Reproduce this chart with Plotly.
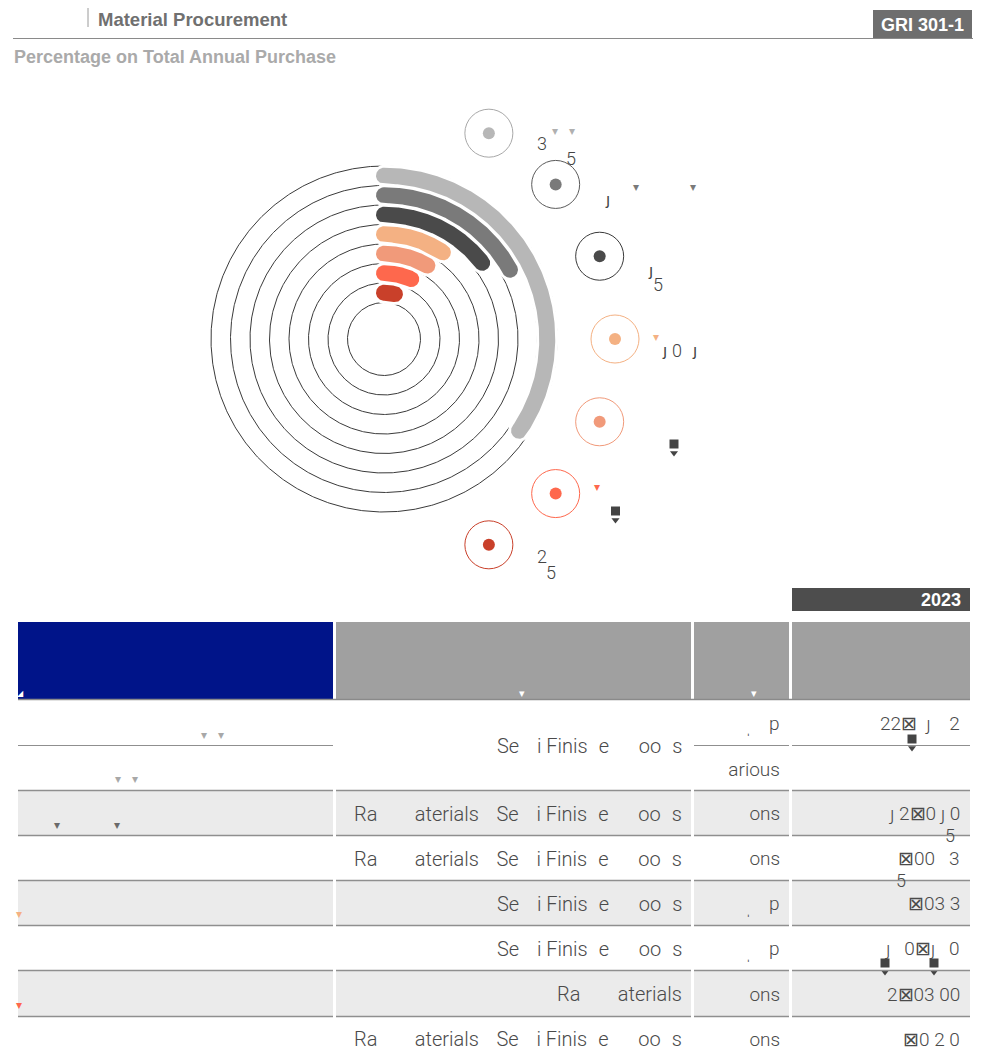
import numpy as np
import plotly.graph_objects as go

# ---------------- data ----------------
shares = [34.5, 17, 14.5, 9.5, 8.5, 6.8, 3.8]          # % of total annual purchase
arc_colors = ["#b7b7b7", "#7a7a7a", "#4a4a4a", "#f4b183", "#f19a7a", "#fe684d", "#c9402a"]
ring_colors = ["#a8a8a8", "#5a5a5a", "#3a3a3a", "#f4b183", "#f19a7a", "#fe684d", "#c9402a"]

table_type = ["Semi Finished Goods",
              "Raw Materials / Semi Finished Goods",
              "Raw Materials / Semi Finished Goods",
              "Semi Finished Goods",
              "Semi Finished Goods",
              "Raw Materials",
              "Raw Materials / Semi Finished Goods"]
table_unit = ["p", "Tons", "Tons", "p", "p", "Tons", "Tons"]
table_unit_extra = "Various"
table_value = ["22\u22a0\u00a0\u00a0\u0237\u00a0\u00a0\u00a0\u00a02",
               "\u0237 2\u22a00\u00a0\u0237\u00a00",
               "\u22a000\u00a0\u00a0\u00a03",
               "\u22a003 3",
               "\u0237\u00a0\u00a0\u00a00\u22a0\u0237\u00a0\u00a0\u00a00",
               "2\u22a003 00",
               "\u22a00 2 0"]
year_label = "2023"
HIDDEN = set("mhdGwMTV/")   # glyphs that the reference font does not draw

# ---------------- geometry / style ----------------
CX, CY = 384, 339
R_OUT, STEP, N_RING = 173, 19.5, 8
BAND = 16
FONT = "Roboto, Liberation Sans, Arial, sans-serif"
HFONT = "Liberation Sans, Arial, sans-serif"

fig = go.Figure()
annotations = []
shapes = []
bang_pts = []


def pt(theta_deg, r):
    t = np.radians(theta_deg)
    return CX + r * np.sin(t), CY - r * np.cos(t)


def text(x, y, s, size=17, color="#444444", xanchor="left", yanchor="middle", family=FONT,
         bold=False, weight=None):
    if bold:
        s = "<b>" + s + "</b>"
    f = dict(size=size, color=color, family=family)
    if weight is not None:
        f["weight"] = weight
    annotations.append(dict(x=x, y=y, xref="x", yref="y", text=s, showarrow=False,
                            xanchor=xanchor, yanchor=yanchor, font=f))


def masked(s):
    out = []
    for ch in s:
        if ch in HIDDEN:
            out.append("<span style='color:rgba(0,0,0,0)'>" + ch + "</span>")
        elif ch == " ":
            out.append("\u00a0")
        else:
            out.append(ch)
    return "".join(out)


def rect(x0, y0, x1, y1, color):
    shapes.append(dict(type="rect", xref="x", yref="y", x0=x0, y0=y0, x1=x1, y1=y1,
                       fillcolor=color, line=dict(width=0), layer="below"))


def line(x0, y0, x1, y1, color, width=1):
    shapes.append(dict(type="line", xref="x", yref="y", x0=x0, y0=y0, x1=x1, y1=y1,
                       line=dict(color=color, width=width)))


def bang(x, y):
    # dark block glyph with a tapering tail, as drawn by the reference font
    bang_pts.append((x, y))


# ---------------- concentric rings ----------------
th = np.linspace(0, 360, 721)
for k in range(N_RING):
    r = R_OUT - STEP * k
    xs, ys = pt(th, r)
    fig.add_trace(go.Scatter(x=xs, y=ys, mode="lines", line=dict(color="#3a3a3a", width=1),
                             hoverinfo="skip", showlegend=False))


def arc_poly(value, r, half):
    span = value / 100 * 360
    a = np.linspace(0, span, 200)
    ox, oy = pt(a, r + half)
    ix, iy = pt(a[::-1], r - half)
    ex, ey = pt(span, r)
    cap = np.radians(np.linspace(0, 180, 40))
    nx, ny = np.sin(np.radians(span)), -np.cos(np.radians(span))
    tx, ty = np.cos(np.radians(span)), np.sin(np.radians(span))
    cx_ = ex + half * (nx * np.cos(cap) + tx * np.sin(cap))
    cy_ = ey + half * (ny * np.cos(cap) + ty * np.sin(cap))
    sx, sy = pt(0, r)
    scx = sx + half * (-np.sin(cap))
    scy = sy + half * (np.cos(cap))
    X = np.concatenate([ox, cx_, ix, scx])
    Y = np.concatenate([oy, cy_, iy, scy])
    return X, Y


for i, v in enumerate(shares):
    r = R_OUT - STEP * i - STEP / 2
    X, Y = arc_poly(v, r, BAND / 2 + 3)
    fig.add_trace(go.Scatter(x=X, y=Y, mode="lines", fill="toself", fillcolor="white",
                             line=dict(width=0, color="white"), hoverinfo="skip", showlegend=False))
for i, v in enumerate(shares):
    r = R_OUT - STEP * i - STEP / 2
    X, Y = arc_poly(v, r, BAND / 2)
    fig.add_trace(go.Scatter(x=X, y=Y, mode="lines", fill="toself", fillcolor=arc_colors[i],
                             line=dict(width=0, color=arc_colors[i]), hoverinfo="skip",
                             showlegend=False, name=f"{v}%"))

# ---------------- legend bubbles ----------------
leg_angles = [27 + 21 * i for i in range(len(shares))]
lx, ly = pt(np.array(leg_angles, dtype=float), 231)
fig.add_trace(go.Scatter(x=lx, y=ly, mode="markers",
                         marker=dict(size=48, color="rgba(0,0,0,0)",
                                     line=dict(width=1, color=ring_colors)),
                         hoverinfo="skip", showlegend=False))
fig.add_trace(go.Scatter(x=lx, y=ly, mode="markers",
                         marker=dict(size=12, color=arc_colors, line=dict(width=0)),
                         hoverinfo="skip", showlegend=False))

# legend labels (as rendered in the reference)
text(535, 143, "3", 18, weight=300)
text(550, 131, "\u25be", 12, "#b0b0b0")
text(567, 131, "\u25be", 12, "#b0b0b0")
text(564, 158, "5", 18, weight=300)
text(603, 199, "\u0237", 16)
text(631, 187, "\u25be", 12, "#7a7a7a")
text(688, 187, "\u25be", 12, "#7a7a7a")
text(646, 270, "\u0237", 16)
text(651, 284, "5", 18, weight=300)
text(651, 337, "\u25be", 12, "#f4b183")
text(660, 350, "\u0237", 16)
text(670, 350, "0", 18, weight=300)
text(690, 350, "\u0237", 16)
bang(674, 444)
text(592, 487, "\u25be", 12, "#fe684d")
bang(615.5, 511)
text(535, 556, "2", 18, weight=300)
text(544, 572, "5", 18, weight=300)

# ---------------- header ----------------
line(88, 5, 88, 27, "#9a9a9a", 1)
text(96, 19, "Material Procurement", 18.5, "#707070", family=HFONT, bold=True)
line(13, 38.5, 973, 38.5, "#8a8a8a", 1)
rect(873, 10, 972, 38, "#6e6e6e")
text(922.5, 25, "GRI 301-1", 18, "white", xanchor="center", family=HFONT, bold=True)
text(12, 57, "Percentage on Total Annual Purchase", 18, "#aaaaaa", family=HFONT, bold=True)

# ---------------- table ----------------
cols = [(18, 333), (336, 691), (694, 789), (792, 970)]
rect(792, 588, 970, 611, "#4d4d4d")
text(963, 599.5, year_label, 18, "white", xanchor="right", family=HFONT, bold=True)

rect(18, 622, 333, 699, "#001489")
for (a, b) in cols[1:]:
    rect(a, 622, b, 699, "#a0a0a0")
line(18, 699.5, 970, 699.5, "#8a8a8a", 1.5)
text(522, 693, "\u25be", 11, "white", xanchor="center")
text(754, 693, "\u25be", 11, "white", xanchor="center")
text(20, 693, "\u25e2", 8, "white", xanchor="center")

row_tops = [700, 791, 836, 881, 926, 971, 1017]
row_bots = [790, 835, 880, 925, 970, 1016, 1060]
for i, (t, b) in enumerate(zip(row_tops, row_bots)):
    if i % 2 == 1:
        for (a, c) in cols:
            rect(a, t, c, b + 0.5, "#ebebeb")
    if b < 1055:
        for (a, c) in cols:
            line(a, b + 0.5, c, b + 0.5, "#8f8f8f", 1.5)
for (a, c) in [cols[0], cols[2], cols[3]]:
    line(a, 745.5, c, 745.5, "#8f8f8f", 1.2)

TS = 19
for i, (t, b) in enumerate(zip(row_tops, row_bots)):
    ym = (t + b) / 2 + 0.5
    text(684, ym, masked(table_type[i]), 20, "#4a4a4a", xanchor="right", weight=300)
    if i == 0:
        text(782, 723, masked(table_unit[i]), TS, "#4a4a4a", xanchor="right", weight=300)
        text(748, 728, "\u02cc", 14, "#444444", xanchor="center")
        text(782, 769, masked(table_unit_extra), TS, "#4a4a4a", xanchor="right", weight=300)
        text(962, 723, table_value[i], TS, "#4a4a4a", xanchor="right", weight=300)
        bang(912, 739)
    else:
        text(782, ym, masked(table_unit[i]), TS, "#4a4a4a", xanchor="right", weight=300)
        if table_unit[i] == "p":
            text(748, ym + 5, "\u02cc", 14, "#444444", xanchor="center")
        text(962, ym, table_value[i], TS, "#4a4a4a", xanchor="right", weight=300)

text(950, 835, "5", 18, "#4a4a4a", xanchor="center", weight=300)
text(901, 880, "5", 18, "#4a4a4a", xanchor="center", weight=300)
bang(885, 963)
bang(934, 963)

# col-1 glyph marks
text(204, 735, "\u25be", 12, "#a8a8a8", xanchor="center")
text(221, 735, "\u25be", 12, "#a8a8a8", xanchor="center")
text(118, 779, "\u25be", 12, "#a8a8a8", xanchor="center")
text(135, 779, "\u25be", 12, "#a8a8a8", xanchor="center")
text(57, 825, "\u25be", 12, "#6a6a6a", xanchor="center")
text(117, 825, "\u25be", 12, "#6a6a6a", xanchor="center")
text(19, 914, "\u25be", 12, "#f4b183", xanchor="center")
text(19, 1005, "\u25be", 12, "#fe684d", xanchor="center")

# block-with-tail glyphs
bx = [p[0] for p in bang_pts]
by = [p[1] for p in bang_pts]
fig.add_trace(go.Scatter(x=bx, y=[v + 9 for v in by], mode="markers",
                         marker=dict(symbol="triangle-down", size=7, color="#444444",
                                     line=dict(width=0)),
                         hoverinfo="skip", showlegend=False))
fig.add_trace(go.Scatter(x=bx, y=by, mode="markers",
                         marker=dict(symbol="square", size=9, color="#444444", line=dict(width=0)),
                         hoverinfo="skip", showlegend=False))

W, H = 965, 1044
fig.update_layout(
    width=W, height=H, margin=dict(l=0, r=0, t=0, b=0, pad=0),
    paper_bgcolor="white", plot_bgcolor="white",
    xaxis=dict(range=[8, 8 + W], visible=False, fixedrange=True),
    yaxis=dict(range=[8 + H, 8], visible=False, fixedrange=True),
    annotations=annotations, shapes=shapes, showlegend=False,
)
fig.write_html("out.html", config={"displayModeBar": False})
